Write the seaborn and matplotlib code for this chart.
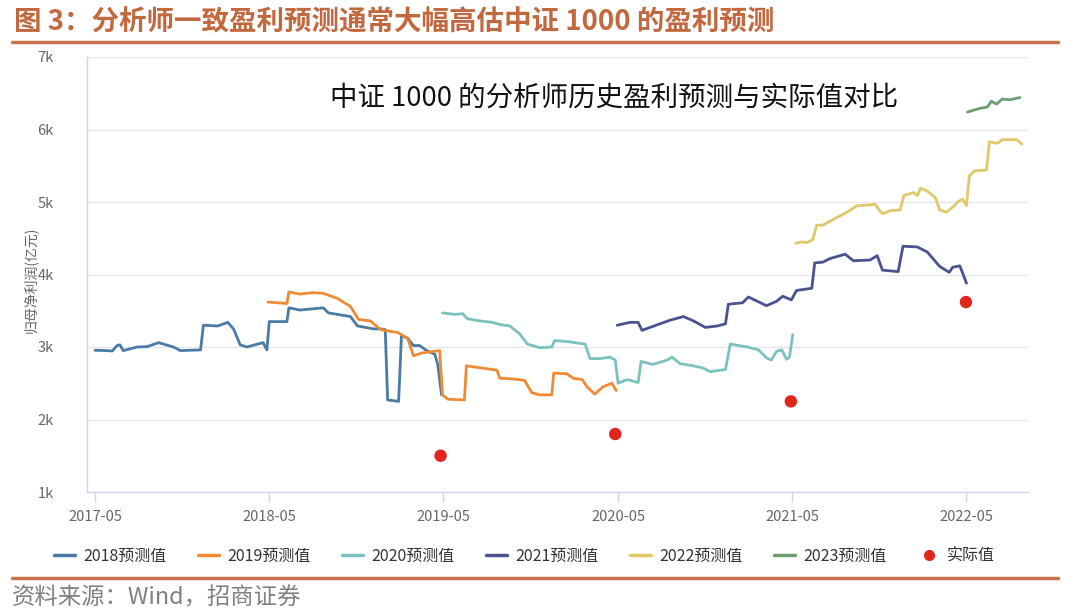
import pandas as pd
import seaborn as sns
import matplotlib.pyplot as plt
import matplotlib.dates as mdates
from matplotlib.lines import Line2D
from matplotlib.ticker import FuncFormatter, MultipleLocator

# 2018 forecast
f2018_dates = ["2017-05-01", "2017-05-26", "2017-06-06", "2017-06-16", "2017-06-22", "2017-06-29",
               "2017-07-28", "2017-08-18", "2017-09-11", "2017-10-12", "2017-10-27", "2017-12-08",
               "2017-12-14", "2018-01-13", "2018-02-03", "2018-02-15", "2018-03-01", "2018-03-15",
               "2018-04-18", "2018-04-26", "2018-05-01", "2018-06-07", "2018-06-11", "2018-07-04",
               "2018-08-22", "2018-09-02", "2018-10-18", "2018-11-02", "2018-12-05", "2018-12-20",
               "2018-12-30", "2019-01-04", "2019-01-27", "2019-02-02", "2019-02-15", "2019-02-27",
               "2019-03-12", "2019-03-27", "2019-04-13", "2019-04-19", "2019-04-27"]
f2018_values = [2955, 2950, 2945, 3020, 3030, 2950, 3000, 3005, 3060, 3000, 2950, 2960,
                3300, 3290, 3340, 3250, 3030, 3000, 3060, 2960, 3350, 3350, 3540, 3510,
                3540, 3470, 3420, 3290, 3250, 3250, 3240, 2270, 2250, 3160, 3120, 3020,
                3020, 2950, 2900, 2760, 2340]

# 2019 forecast
f2019_dates = ["2018-04-28", "2018-06-07", "2018-06-11", "2018-07-04", "2018-08-01", "2018-08-22",
               "2018-09-21", "2018-10-18", "2018-11-04", "2018-11-29", "2018-12-20", "2019-01-25",
               "2019-02-15", "2019-02-27", "2019-03-18", "2019-04-23", "2019-04-29", "2019-05-10",
               "2019-06-14", "2019-06-18", "2019-07-31", "2019-08-21", "2019-08-27", "2019-09-23",
               "2019-10-18", "2019-11-02", "2019-11-19", "2019-12-14", "2019-12-18", "2020-01-15",
               "2020-01-28", "2020-02-16", "2020-02-26", "2020-03-13", "2020-03-30", "2020-04-18",
               "2020-04-27"]
f2019_values = [3620, 3600, 3760, 3730, 3750, 3740, 3670, 3560, 3380, 3360, 3240, 3200,
                3120, 2880, 2920, 2950, 2340, 2280, 2270, 2740, 2700, 2680, 2570, 2560,
                2540, 2370, 2340, 2340, 2640, 2630, 2570, 2550, 2450, 2350, 2450, 2500,
                2400]

# 2020 forecast
f2020_dates = ["2019-04-29", "2019-05-24", "2019-06-10", "2019-06-20", "2019-07-16", "2019-08-12",
               "2019-08-27", "2019-09-17", "2019-10-08", "2019-10-24", "2019-11-19", "2019-12-14",
               "2019-12-20", "2020-01-21", "2020-02-22", "2020-03-03", "2020-03-24", "2020-04-14",
               "2020-04-25", "2020-05-01", "2020-05-20", "2020-06-12", "2020-06-18", "2020-07-13",
               "2020-08-12", "2020-08-22", "2020-09-08", "2020-10-06", "2020-10-26", "2020-11-10",
               "2020-12-12", "2020-12-22", "2021-01-27", "2021-02-19", "2021-03-08", "2021-03-18",
               "2021-03-29", "2021-04-09", "2021-04-19", "2021-04-25", "2021-05-02"]
f2020_values = [3470, 3450, 3460, 3390, 3360, 3340, 3310, 3290, 3180, 3040, 2990, 3000,
                3090, 3070, 3040, 2840, 2840, 2860, 2820, 2500, 2550, 2510, 2800, 2760,
                2820, 2860, 2770, 2740, 2710, 2660, 2690, 3040, 3000, 2960, 2850, 2820,
                2940, 2960, 2830, 2860, 3170]

# 2021 forecast
f2021_dates = ["2020-04-29", "2020-05-26", "2020-06-12", "2020-06-20", "2020-07-28", "2020-08-18",
               "2020-09-15", "2020-10-06", "2020-10-31", "2020-11-25", "2020-12-12", "2020-12-18",
               "2021-01-17", "2021-01-29", "2021-02-17", "2021-03-08", "2021-03-29", "2021-04-11",
               "2021-04-29", "2021-05-10", "2021-06-11", "2021-06-17", "2021-07-04", "2021-07-19",
               "2021-08-20", "2021-09-06", "2021-10-11", "2021-10-26", "2021-11-06", "2021-12-09",
               "2021-12-19", "2022-01-18", "2022-02-08", "2022-03-06", "2022-03-26", "2022-04-02",
               "2022-04-17", "2022-04-23", "2022-05-01"]
f2021_values = [3300, 3340, 3340, 3230, 3320, 3370, 3420, 3360, 3270, 3290, 3320, 3590,
                3610, 3690, 3630, 3570, 3630, 3700, 3650, 3780, 3810, 4160, 4170, 4220,
                4280, 4190, 4200, 4260, 4060, 4040, 4390, 4380, 4310, 4110, 4030, 4100,
                4120, 4020, 3880]

# 2022 forecast
f2022_dates = ["2021-05-08", "2021-05-21", "2021-06-01", "2021-06-13", "2021-06-21", "2021-07-04",
               "2021-07-29", "2021-08-24", "2021-09-14", "2021-10-11", "2021-10-22", "2021-11-02",
               "2021-11-08", "2021-11-22", "2021-12-13", "2021-12-21", "2022-01-10", "2022-01-18",
               "2022-01-25", "2022-02-08", "2022-02-25", "2022-03-06", "2022-03-20", "2022-04-06",
               "2022-04-12", "2022-04-23", "2022-05-01", "2022-05-07", "2022-05-18", "2022-06-12",
               "2022-06-18", "2022-07-05", "2022-07-15", "2022-08-14", "2022-08-25"]
f2022_values = [4430, 4450, 4440, 4480, 4680, 4680, 4770, 4860, 4950, 4960, 4970, 4860,
                4840, 4880, 4890, 5090, 5130, 5090, 5190, 5150, 5060, 4890, 4860, 4950,
                5000, 5040, 4950, 5360, 5430, 5440, 5830, 5810, 5860, 5860, 5800]

# 2023 forecast
f2023_dates = ["2022-05-03", "2022-05-28", "2022-06-14", "2022-06-22", "2022-07-03", "2022-07-15",
               "2022-07-30", "2022-08-21"]
f2023_values = [6240, 6290, 6310, 6390, 6350, 6420, 6410, 6440]

# actual values
actual_dates = ["2019-04-25", "2020-04-25", "2021-04-28", "2022-04-30"]
actual_values = [1500, 1800, 2250, 3620]

x_ticks = ["2017-05-01", "2018-05-01", "2019-05-01", "2020-05-01", "2021-05-01", "2022-05-01"]

series = [
    ("2018预测值", f2018_dates, f2018_values, "#4a7aa6"),
    ("2019预测值", f2019_dates, f2019_values, "#ee8b34"),
    ("2020预测值", f2020_dates, f2020_values, "#7bc2bf"),
    ("2021预测值", f2021_dates, f2021_values, "#4a5292"),
    ("2022预测值", f2022_dates, f2022_values, "#e0c86a"),
    ("2023预测值", f2023_dates, f2023_values, "#6b9e70"),
]
dot_color = "#e2261c"
rule_color = "#c8714f"

sns.set_theme(style="white")
plt.rcParams["font.family"] = ["Noto Sans CJK SC", "DejaVu Sans"]

fig = plt.figure(figsize=(10.8, 6.16), dpi=100)
ax = fig.add_axes([87 / 1080, 1 - 492 / 616, (1028 - 87) / 1080, (492 - 57) / 616])

for name, d, v, c in series:
    df = pd.DataFrame({"date": pd.to_datetime(d), "value": v})
    sns.lineplot(data=df, x="date", y="value", ax=ax, color=c, linewidth=2.0,
                 sort=False, estimator=None, legend=False)

act = pd.DataFrame({"date": pd.to_datetime(actual_dates), "value": actual_values})
sns.scatterplot(data=act, x="date", y="value", ax=ax, color=dot_color, s=80,
                edgecolor="none", zorder=5, legend=False)

ax.set_xlim(pd.Timestamp("2017-04-14"), pd.Timestamp("2022-09-07"))
ax.set_ylim(1000, 7000)
ax.yaxis.set_major_locator(MultipleLocator(1000))
ax.yaxis.set_major_formatter(FuncFormatter(lambda v, p: f"{int(v / 1000)}k"))
ax.set_xticks(pd.to_datetime(x_ticks))
ax.xaxis.set_major_formatter(mdates.DateFormatter("%Y-%m"))

ax.grid(True, axis="y", color="#e6e6e6", linewidth=1)
ax.set_axisbelow(True)
for s in ["top", "right"]:
    ax.spines[s].set_visible(False)
for s in ["left", "bottom"]:
    ax.spines[s].set_color("#ccd6eb")
    ax.spines[s].set_linewidth(1)
ax.tick_params(axis="x", bottom=True, length=7, width=1, color="#ccd6eb",
               labelsize=10.5, labelcolor="#666666", pad=6)
ax.tick_params(axis="y", left=False, labelsize=10.5, labelcolor="#666666", pad=18)
ax.set_xlabel("")
ax.set_ylabel("")

fig.text(30 / 1080, 1 - 280 / 616, "归母净利润(亿元)", rotation=90, ha="center", va="center",
         fontsize=10, color="#666666")

ax.text(0.560, 0.905, "中证 1000 的分析师历史盈利预测与实际值对比", transform=ax.transAxes,
        ha="center", va="center", fontsize=19.8, color="#111111")

# header / footer
fig.text(14 / 1080, 1 - 22 / 616, "图 3：分析师一致盈利预测通常大幅高估中证 1000 的盈利预测",
         ha="left", va="center", fontsize=19.8, fontweight="bold", color="#c2683f")
fig.add_artist(Line2D([12 / 1080, 1058 / 1080], [1 - 42 / 616, 1 - 42 / 616],
                      color=rule_color, linewidth=2.5, transform=fig.transFigure))
fig.add_artist(Line2D([12 / 1080, 1058 / 1080], [1 - 578 / 616, 1 - 578 / 616],
                      color=rule_color, linewidth=2.5, transform=fig.transFigure))
fig.text(12 / 1080, 1 - 598 / 616, "资料来源：Wind，招商证券", ha="left", va="center",
         fontsize=16.8, color="#808080")

handles = [Line2D([0], [0], color=c, linewidth=2.5) for _, _, _, c in series]
handles.append(Line2D([0], [0], marker="o", linestyle="none", markersize=8,
                      markerfacecolor=dot_color, markeredgecolor="none"))
labels = [s[0] for s in series] + ["实际值"]
leg = fig.legend(handles, labels, loc="center", bbox_to_anchor=(0.486, 1 - 556 / 616),
                 ncol=7, frameon=False, fontsize=11.5, handlelength=1.3, handletextpad=0.5,
                 columnspacing=2.0)
for t in leg.get_texts():
    t.set_color("#333333")

fig.savefig("out.png", dpi=100)
